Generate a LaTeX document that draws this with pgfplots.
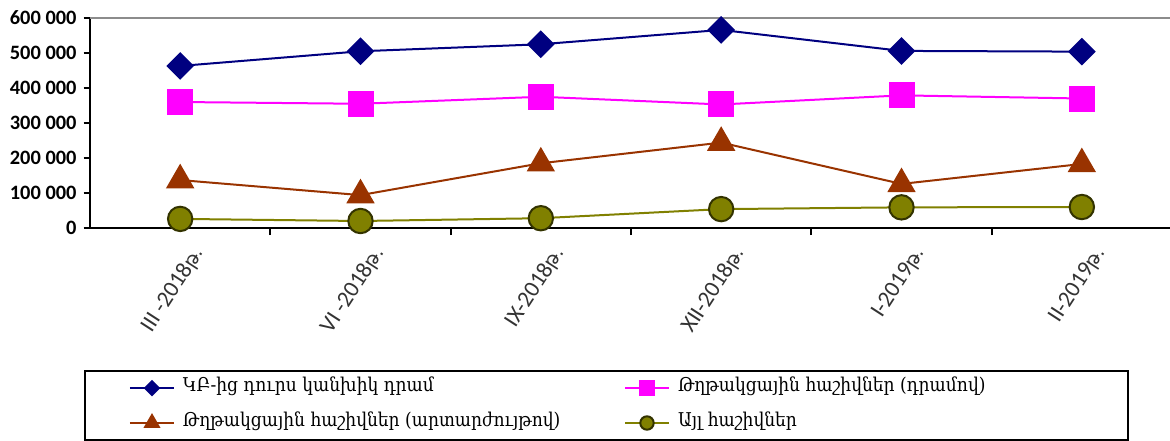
\documentclass[border=0pt]{standalone}
\usepackage{pgfplots}
\pgfplotsset{compat=1.18}
\usepackage{pgfplotstable}
\usepackage{fontspec}
\setmainfont{Carlito}
\newfontfamily\armserif{DejaVu Serif Condensed}
\newfontfamily\armsans{DejaVu Sans}
\definecolor{sNavy}{RGB}{0,0,128}
\definecolor{sMag}{RGB}{255,0,255}
\definecolor{sBrown}{RGB}{153,51,0}
\definecolor{sOlive}{RGB}{128,128,0}
\definecolor{sOliveDark}{RGB}{51,51,0}

\pgfplotstableread{
x a b c d
0 463000 360000 137000 26000
1 505000 355000 94000 20000
2 525000 375000 185000 28000
3 566000 353000 244000 54000
4 506000 379000 126000 59000
5 504000 370000 183000 60000
}\datatable

\newcommand{\lt}[2]{\makebox[#1][l]{\armserif\fontsize{9.5}{11}\selectfont #2}}
\newcommand{\xl}[2]{#1{\armsans\fontsize{9.5}{11}\selectfont #2}}

\begin{document}
\begin{tikzpicture}
\begin{axis}[
  at={(0,0)}, anchor=south west,
  scale only axis, width=541pt, height=105pt,
  xmin=-0.5, xmax=5.5, ymin=0, ymax=600000,
  clip=false,
  axis lines*=left,
  axis line style={-, line width=1.2pt, black},
  tick align=outside,
  major tick length=3.2pt,
  tick style={line width=1pt, black},
  xtick={0,...,5},
  xtick style={draw=none},
  xticklabels={\xl{III -2018}{թ.}, \xl{VI -2018}{թ.}, \xl{IX-2018}{թ.},
    \xl{XII-2018}{թ.}, \xl{I-2019}{թ.}, \xl{II-2019}{թ.}},
  xticklabel style={rotate=57, anchor=east, font=\fontsize{11.5}{13}\selectfont,
    text=black!80, xshift=2.5pt, yshift=-12pt},
  extra x ticks={0.5,1.5,2.5,3.5,4.5,5.5},
  extra x tick labels={},
  extra x tick style={xtick style={draw=black}, major tick length=3.5pt},
  ytick={0,100000,200000,300000,400000,500000},
  yticklabels={0,100 000,200 000,300 000,400 000,500 000},
  extra y ticks={600000},
  extra y tick labels={600 000},
  extra y tick style={grid=major, major grid style={draw=black!45, line width=1pt}},
  yticklabel style={font=\bfseries\fontsize{10.2}{12}\selectfont},
  scaled y ticks=false,
  legend columns=2,
  legend cell align=left,
  legend style={at={(0,0)}, anchor=north west, xshift=-2.5pt, yshift=-71.5pt,
    draw=black, line width=1pt, inner xsep=0pt, inner ysep=4.25pt, outer sep=0pt,
    nodes={inner sep=0pt, text height=6pt, text depth=2.5pt},
    row sep=9pt,
    /tikz/every odd column/.append style={column sep=4pt},
    /tikz/every even column/.append style={column sep=0pt}},
  legend image code/.code={
    \path[draw=none, fill=none] (-22.5pt,0pt) rectangle (0pt,0pt);
    \draw[mark repeat=2, mark phase=2, #1, every mark/.append style={scale=0.55}]
      plot coordinates {(0pt,0pt) (11pt,0pt) (22pt,0pt)};
  },
]
\addplot[sNavy, line width=1pt, mark=square*, mark size=4.4pt,
  mark options={rotate=45, fill=sNavy, draw=sNavy}] table[x=x, y=a] {\datatable};
\addlegendentry{\lt{198.5pt}{ԿԲ-ից դուրս կանխիկ դրամ}}
\addplot[sMag, line width=1pt, mark=square*, mark size=6pt,
  mark options={fill=sMag, draw=sMag}] table[x=x, y=b] {\datatable};
\addlegendentry{\lt{225pt}{Թղթակցային հաշիվներ (դրամով)}}
\addplot[sBrown, line width=1pt, mark=triangle*, mark size=7.2pt,
  mark options={fill=sBrown, draw=sBrown}] table[x=x, y=c] {\datatable};
\addlegendentry{\lt{198.5pt}{Թղթակցային հաշիվներ (արտարժույթով)}}
\addplot[sOlive, line width=1pt, mark=*, mark size=6.1pt,
  mark options={fill=sOlive, draw=sOliveDark, line width=1pt}] table[x=x, y=d] {\datatable};
\addlegendentry{\lt{225pt}{Այլ հաշիվներ}}
\end{axis}
\pgfresetboundingbox
\path[use as bounding box] (-45pt,-106pt) rectangle (540pt,114pt);
\end{tikzpicture}
\end{document}
